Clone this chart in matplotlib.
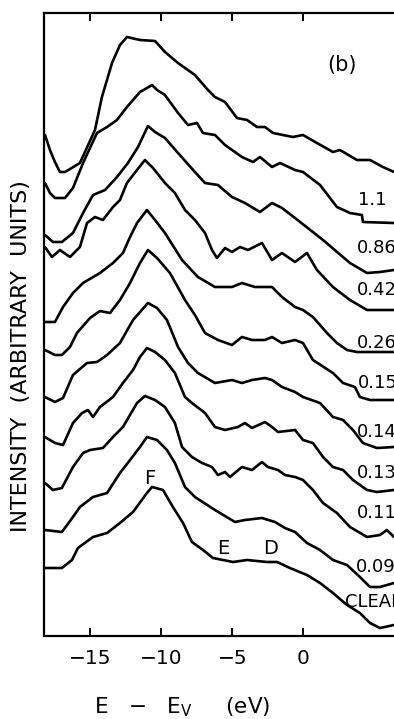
import matplotlib
matplotlib.use('Agg')
import matplotlib.pyplot as plt

# ---- data (E - Ev in eV, intensity in arbitrary units) ----
e_c1 = [-18.19,-17.84,-17.49,-17.14,-16.78,-15.73,-14.67,-14.18,-13.47,-12.91,-12.42,-11.50,-10.44,-9.74,-8.82,-7.63,-6.71,-6.22,-5.51,-4.67,-3.96,-3.26,-2.70,-2.13,-0.73,-0.02,0.96,2.09,2.58,3.78,4.70,5.61,6.39]
i_c1 = [501,486,474,464,464,473,506,539,573,591,599,596,595,584,573,561,546,539,534,518,516,509,509,503,499,501,493,484,486,476,476,469,464]

e_c2 = [-18.19,-17.84,-17.49,-16.78,-16.22,-15.51,-14.53,-13.82,-13.12,-12.42,-11.50,-10.65,-10.30,-9.74,-8.82,-8.12,-7.49,-7.06,-6.22,-5.51,-4.32,-3.54,-3.05,-2.20,-1.64,-0.58,-0.02,1.18,2.37,3.29,4.13,4.20,6.39]
i_c2 = [453,443,438,438,448,473,503,509,516,529,544,551,546,541,523,511,513,503,501,491,479,474,479,469,473,466,464,451,429,423,421,414,413]

e_c3 = [-18.19,-17.63,-17.00,-16.22,-15.51,-14.81,-13.96,-13.12,-12.35,-11.64,-10.94,-10.44,-9.74,-8.82,-7.63,-6.92,-6.01,-5.02,-4.11,-3.05,-2.20,-1.50,-0.58,1.39,3.29,4.49,5.40,6.39]
i_c3 = [401,394,394,403,423,441,446,459,473,489,510,504,498,483,464,453,451,439,433,424,433,428,418,396,373,363,364,366]

e_c4 = [-18.19,-17.70,-17.14,-16.43,-15.73,-15.23,-14.67,-14.11,-13.40,-12.91,-12.42,-11.71,-11.15,-10.58,-9.74,-9.04,-8.33,-7.63,-6.92,-6.43,-6.08,-5.51,-5.02,-4.46,-3.89,-2.91,-2.20,-1.50,-0.58,0.26,0.96,2.09,3.29,4.49,6.39]
i_c4 = [389,379,386,379,389,413,419,416,429,436,453,466,476,468,453,443,426,416,403,386,378,388,384,389,386,393,376,383,374,383,366,349,336,326,326]

e_c5 = [-18.19,-17.49,-16.92,-16.22,-15.51,-14.32,-13.40,-12.70,-12.20,-11.71,-11.01,-10.44,-9.74,-8.54,-7.42,-6.22,-5.02,-4.32,-3.40,-2.20,-1.50,-0.58,-0.02,0.68,1.67,2.37,3.08,3.78,6.39]
i_c5 = [314,314,329,343,353,363,373,383,399,413,426,416,403,376,359,349,349,353,349,349,339,329,326,319,303,293,286,284,284]

e_c6 = [-18.19,-17.49,-17.00,-16.43,-15.94,-15.02,-14.32,-13.61,-12.91,-12.20,-11.50,-10.94,-10.30,-9.39,-8.33,-7.63,-6.92,-6.01,-5.02,-4.32,-3.61,-2.70,-2.20,-1.50,-0.58,-0.02,0.68,2.09,2.80,3.64,3.99,4.70,6.39]
i_c6 = [286,281,281,289,303,318,325,323,336,353,373,386,378,363,336,321,303,296,291,299,296,296,299,293,296,293,276,263,253,249,239,236,236]

e_c7 = [-18.19,-17.49,-16.92,-16.22,-15.23,-14.53,-13.82,-12.91,-11.99,-10.94,-10.30,-9.60,-8.82,-8.12,-7.42,-6.22,-5.02,-4.32,-3.61,-2.70,-2.20,-1.50,-0.58,-0.02,1.18,2.09,2.80,3.50,4.20,5.19,6.39]
i_c7 = [239,234,238,261,273,274,281,293,316,333,328,316,289,273,263,253,256,253,256,258,256,249,244,239,233,219,216,206,193,188,189]

e_c8 = [-18.19,-17.49,-16.92,-16.22,-15.58,-15.16,-14.81,-14.32,-13.40,-12.70,-11.99,-11.50,-11.01,-10.44,-9.74,-9.04,-8.33,-7.84,-6.92,-6.22,-5.51,-4.60,-4.11,-3.61,-2.70,-2.20,-1.78,-0.58,-0.02,0.68,1.39,2.09,2.80,3.50,4.49,5.19,6.39]
i_c8 = [199,193,191,213,223,226,219,229,239,253,266,279,288,284,276,263,239,233,223,209,206,209,213,208,214,209,204,206,196,193,179,169,166,156,146,144,146]

e_c9 = [-18.19,-17.63,-17.00,-16.22,-15.51,-15.02,-14.11,-13.40,-12.70,-11.71,-11.15,-10.44,-9.74,-9.04,-8.54,-7.84,-7.13,-6.43,-6.01,-5.51,-5.16,-4.32,-3.61,-2.91,-2.49,-1.78,-1.29,-0.58,-0.02,0.68,1.39,2.37,3.29,4.49,5.40,5.89,6.39]
i_c9 = [153,146,148,169,183,186,188,199,209,233,240,236,229,213,189,179,173,169,161,164,159,169,166,174,169,166,161,159,156,146,133,123,109,99,101,106,99]

e_c10 = [-18.19,-17.00,-16.22,-15.73,-14.81,-13.82,-12.91,-12.20,-11.50,-11.01,-10.30,-9.60,-9.04,-8.33,-7.63,-6.22,-4.81,-4.11,-2.91,-1.99,-1.29,-0.58,0.26,1.18,2.09,3.08,3.99,4.70,5.40,6.39]
i_c10 = [106,104,119,129,139,143,163,176,189,199,196,186,173,149,139,126,114,116,118,114,108,104,93,86,76,71,59,49,49,53]

e_c11 = [-18.19,-17.00,-16.29,-15.87,-14.81,-13.82,-12.91,-11.99,-11.01,-10.65,-9.88,-9.18,-8.47,-7.84,-7.06,-6.36,-4.95,-3.96,-2.56,-1.85,-0.94,0.26,1.18,2.09,3.08,3.99,4.70,5.40,6.39]
i_c11 = [68,68,76,88,99,103,113,124,143,149,146,129,113,94,86,78,74,76,74,74,68,61,53,43,31,23,13,8,11]

curve_labels = ['1.1', '0.86', '0.42', '0.26', '0.15', '0.14', '0.13', '0.11', '0.09', 'CLEAN']
label_e = [3.87, 3.78, 3.78, 3.78, 3.87, 3.78, 3.78, 3.78, 3.71, 2.94]
label_i = [436, 388, 346, 293, 253, 204, 163, 123, 69, 34]

peak_names = ['F', 'E', 'D']
peak_e = [-10.8, -5.65, -2.27]
peak_i = [158, 88, 88]

xtick_vals = [-15, -10, -5, 0]
xtick_text = ['\u221215', '\u221210', '\u22125', '0']

# ---- figure ----
W, H = 394, 719
fig = plt.figure(figsize=(W / 100, H / 100), dpi=100)
ax = fig.add_axes([44 / W, 83 / H, 1 - 44 / W, 623 / H])

energies = [e_c1, e_c2, e_c3, e_c4, e_c5, e_c6, e_c7, e_c8, e_c9, e_c10, e_c11]
intens = [i_c1, i_c2, i_c3, i_c4, i_c5, i_c6, i_c7, i_c8, i_c9, i_c10, i_c11]
for e, i in zip(energies, intens):
    ax.plot(e, i, color='black', lw=1.9, solid_joinstyle='round', solid_capstyle='round')

ax.set_xlim(-18.26, 6.39)
ax.set_ylim(0, 623)

ax.set_xticks(xtick_vals)
ax.set_xticklabels(xtick_text)
ax.set_yticks([])
ax.tick_params(axis='x', direction='in', length=6, width=1.4, top=True,
               labelsize=14.5, pad=9, colors='black')
for side in ['left', 'bottom', 'top']:
    ax.spines[side].set_linewidth(1.6)
    ax.spines[side].set_color('black')
ax.spines['right'].set_visible(False)

for txt, x, y in zip(curve_labels, label_e, label_i):
    ax.text(x, y, txt, fontsize=13, ha='left', va='center', color='black')
for txt, x, y in zip(peak_names, peak_e, peak_i):
    ax.text(x, y, txt, fontsize=14, ha='center', va='center', color='black')
ax.text(2.72, 571, '(b)', fontsize=15, ha='center', va='center', color='black')

fig.text(21 / W, 1 - 356 / H, 'INTENSITY  (ARBITRARY  UNITS)', rotation=90,
         fontsize=16, ha='center', va='center', color='black')
fig.text(182 / W, 1 - 707 / H, 'E   \u2212   E$_{\\mathregular{V}}$     (eV)',
         fontsize=15.5, ha='center', va='center', color='black')

fig.savefig('out.png', dpi=100, facecolor='white')
